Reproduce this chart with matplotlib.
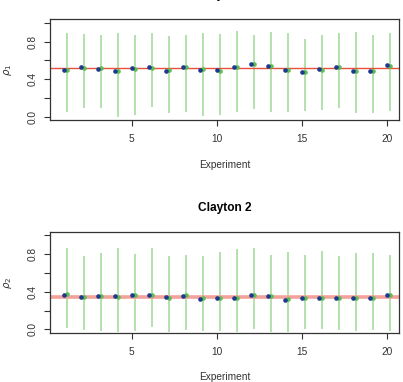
import numpy as np
import matplotlib.pyplot as plt

plt.rcParams['font.family'] = ['Liberation Sans', 'DejaVu Sans']

experiment = np.arange(1, 21)

# Clayton 1
est1_blue = [0.501, 0.533, 0.508, 0.491, 0.516, 0.533, 0.491, 0.533, 0.498, 0.501,
             0.526, 0.562, 0.540, 0.498, 0.476, 0.508, 0.526, 0.491, 0.491, 0.548]
est1_green = [0.498, 0.519, 0.516, 0.487, 0.508, 0.519, 0.494, 0.526, 0.505, 0.491,
              0.530, 0.558, 0.544, 0.498, 0.476, 0.498, 0.526, 0.484, 0.487, 0.540]
lo1 = [0.053, 0.096, 0.096, 0.000, 0.018, 0.103, 0.036, 0.053, 0.011, 0.018,
       0.053, 0.082, 0.053, 0.053, 0.064, 0.071, 0.096, 0.036, 0.043, 0.064]
hi1 = [0.889, 0.885, 0.875, 0.889, 0.875, 0.896, 0.860, 0.875, 0.892, 0.885,
       0.914, 0.875, 0.903, 0.892, 0.825, 0.875, 0.896, 0.903, 0.875, 0.889]
true1 = 0.516

# Clayton 2
est2_blue = [0.364, 0.346, 0.357, 0.350, 0.368, 0.364, 0.346, 0.357, 0.321, 0.329,
             0.339, 0.371, 0.357, 0.314, 0.329, 0.336, 0.329, 0.336, 0.332, 0.361]
est2_green = [0.379, 0.343, 0.350, 0.346, 0.364, 0.371, 0.336, 0.361, 0.329, 0.329,
              0.339, 0.371, 0.354, 0.321, 0.336, 0.336, 0.339, 0.336, 0.336, 0.361]
lo2 = [0.018, -0.007, -0.014, -0.029, -0.018, 0.021, -0.029, -0.007, -0.018, -0.018,
       -0.029, 0.007, -0.029, -0.029, 0.000, 0.007, -0.007, -0.018, -0.007, -0.018]
hi2 = [0.868, 0.782, 0.811, 0.868, 0.807, 0.868, 0.782, 0.796, 0.782, 0.821,
       0.857, 0.868, 0.796, 0.825, 0.796, 0.839, 0.782, 0.811, 0.811, 0.796]
true2 = 0.346

offset = 0.2
fs = 7.3

fig = plt.figure(figsize=(4.03, 3.82), dpi=100)
ax1 = fig.add_axes([0.124, 0.6846, 0.867, 0.2654])
ax2 = fig.add_axes([0.124, 0.128, 0.867, 0.2655])

panels = [
    (ax1, est1_blue, est1_green, lo1, hi1, true1, r'$\rho_1$', 'Clayton 1', '#e8503a', 1.0),
    (ax2, est2_blue, est2_green, lo2, hi2, true2, r'$\rho_2$', 'Clayton 2', '#f2a29a', 2.6),
]

for ax, b, g, lo, hi, tr, ylab, title, rcol, rlw in panels:
    xg = experiment + offset
    ax.vlines(xg, lo, hi, color='#addfa6', lw=1.3, zorder=1)
    ax.axhline(tr, color=rcol, lw=rlw, zorder=2)
    ax.scatter(xg, g, s=11, color='#5cbc55', zorder=3, linewidths=0)
    ax.scatter(experiment, b, s=11, color='#1f3a8c', zorder=4, linewidths=0)
    ax.set_xlim(0.2, 20.75)
    ax.set_ylim(-0.04, 1.04)
    ax.set_xticks([5, 10, 15, 20])
    ax.set_yticks([0.0, 0.2, 0.4, 0.6, 0.8, 1.0])
    ax.set_yticklabels(['0.0', '', '0.4', '', '0.8', ''], rotation=90, va='center')
    ax.tick_params(labelsize=fs, length=4, width=0.8, colors='#333333')
    ax.tick_params(axis='x', pad=6)
    ax.tick_params(axis='y', pad=5)
    for s in ax.spines.values():
        s.set_color('#333333')
        s.set_linewidth(0.9)
    ax.set_xlabel('Experiment', fontsize=fs, color='#333333', labelpad=11)
    ax.set_ylabel(ylab, fontsize=fs, color='#333333', labelpad=10)
    ax.set_title(title, fontsize=8.6, fontweight='bold', pad=15)

plt.savefig('out.png', dpi=100)
